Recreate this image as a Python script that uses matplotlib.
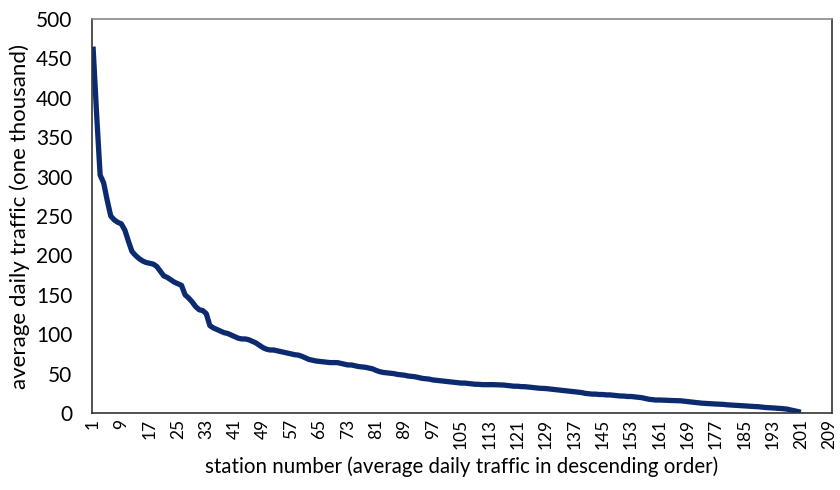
import matplotlib
matplotlib.use('Agg')
import matplotlib.pyplot as plt

# average daily traffic (thousand), stations in descending order
traffic = [
    465, 380, 302, 292, 270, 250, 245, 242, 240, 232,
    218, 205, 200, 196, 193, 191, 190, 189, 186, 180,
    174, 172, 169, 166, 164, 162, 150, 146, 141, 135,
    131, 130, 126, 111, 108, 106, 104, 102, 101, 99,
    97, 95, 94, 94, 93, 91, 89, 86, 83, 81,
    80, 80, 79, 78, 77, 76, 75, 74, 73.5, 72,
    70, 68, 67, 66, 65.5, 65, 64.5, 64, 64, 64,
    63, 62, 61, 61, 60, 59, 58.5, 58, 57, 56,
    54, 52.5, 51.5, 51, 50.5, 50, 49, 48.5, 48, 47,
    46.5, 46, 45, 44, 43.5, 43, 42, 41.5, 41, 40.5,
    40, 39.5, 39, 38.5, 38, 38, 37.5, 37, 36.5, 36.4,
    36, 36, 36, 36, 35.8, 35.5, 35.5, 35, 34.5, 34,
    34, 33.5, 33.4, 33, 32.5, 32, 31.5, 31.3, 31, 30.5,
    30, 29.5, 29, 28.5, 28, 27.5, 27, 26.5, 26, 25,
    24.5, 24, 24, 23.5, 23.5, 23, 23, 22.5, 22, 21.6,
    21.5, 21, 21, 20.5, 20, 19.5, 18.5, 17.5, 17, 16.5,
    16.5, 16.3, 16.2, 16, 15.8, 15.7, 15.5, 15, 14.5, 14,
    13.5, 13, 12.5, 12.2, 12, 11.7, 11.4, 11.2, 11, 10.5,
    10.2, 10, 9.7, 9.3, 9, 8.8, 8.5, 8.2, 8, 7.5,
    7, 6.8, 6.5, 6.2, 6, 5.5, 5, 4, 3, 2,
    1,
]
stations = list(range(1, len(traffic) + 1))
x_ticks = list(range(1, 210, 8))
y_ticks = list(range(0, 501, 50))

plt.rcParams['font.family'] = ['Lato', 'DejaVu Sans']

fig = plt.figure(figsize=(8.4, 4.9), dpi=100)
ax = fig.add_axes([0.1095, 0.1571, 0.881, 0.8041])

ax.plot(stations, traffic, color='#0b2a6f', lw=3.8, solid_capstyle='butt')

ax.set_xlim(0.7, 209.8)
ax.set_ylim(0, 500)
ax.set_xticks(x_ticks)
ax.set_xticklabels([str(t) for t in x_ticks], rotation=90, fontsize=12.5)
ax.set_yticks(y_ticks)
ax.set_yticklabels([str(t) for t in y_ticks], fontsize=15)
ax.tick_params(axis='x', length=0, pad=4)
ax.tick_params(axis='y', length=0, pad=14)

for s in ['left', 'bottom', 'right']:
    ax.spines[s].set_color('#333333')
    ax.spines[s].set_linewidth(1.2)
ax.spines['top'].set_color('#888888')
ax.spines['top'].set_linewidth(1.2)

ax.set_xlabel('station number (average daily traffic in descending order)', fontsize=14.8, va='center')
ax.set_ylabel('average daily traffic (one thousand)', fontsize=16, va='center')
ax.xaxis.set_label_coords(0.5, -0.137)
ax.yaxis.set_label_coords(-0.097, 0.5)

plt.savefig('out.png', dpi=100)
